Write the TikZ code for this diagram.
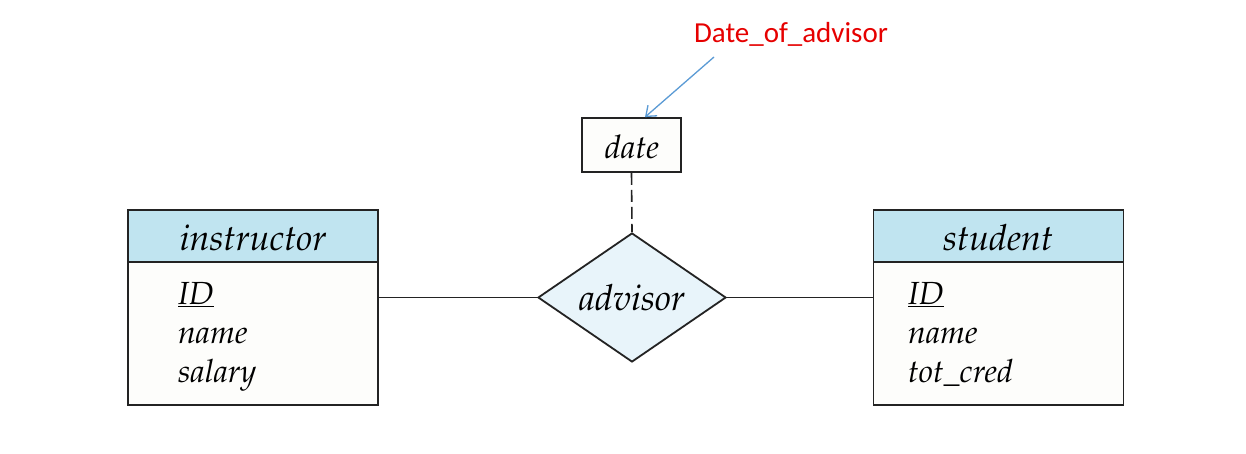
\documentclass[tikz,border=0pt]{standalone}
\usepackage[T1]{fontenc}
\usepackage{fontspec}
\newfontfamily\calibri{Carlito}
\newcommand\palit{\fontencoding{T1}\fontfamily{ppl}\fontseries{m}\fontshape{it}\selectfont}
\usetikzlibrary{shapes.geometric,arrows.meta}
\definecolor{hdr}{RGB}{192,228,240}
\definecolor{body}{RGB}{253,253,251}
\definecolor{dia}{RGB}{232,244,250}
\definecolor{note}{RGB}{230,0,0}
\definecolor{arr}{RGB}{91,155,213}
\definecolor{edge}{RGB}{35,35,35}
\begin{document}
\begin{tikzpicture}[x=1pt,y=-1pt,
  box/.style={draw=edge,line width=1.8pt,rectangle,inner sep=0pt},
  hdrbox/.style={box,fill=hdr,minimum width=250pt,minimum height=52pt},
  bodybox/.style={box,fill=body,minimum width=250pt,minimum height=143pt},
  ttl/.style={anchor=base,inner sep=0pt,font=\fontsize{36}{44}\palit},
  attr/.style={anchor=base west,inner sep=0pt,font=\fontsize{32}{39}\palit},
  conn/.style={draw=edge,line width=1.6pt}]
\useasboundingbox[fill=white] (0,0) rectangle (1246,453);
% instructor
\node[hdrbox] (iH) at (253,236) {};
\node[bodybox] (iB) at (253,333.5) {};
\node[ttl] (iT) at (253,250) {instructor};
\node[attr] (iA1) at (178,304) {\underline{ID}};
\node[attr] (iA2) at (178,343) {name};
\node[attr] (iA3) at (178,382) {salary};
% student
\node[hdrbox] (sH) at (998.5,236) {};
\node[bodybox] (sB) at (998.5,333.5) {};
\node[ttl] (sT) at (998,250) {student};
\node[attr] (sA1) at (908,304) {\underline{ID}};
\node[attr] (sA2) at (908,343) {name};
\node[attr] (sA3) at (908,382) {tot\_cred};
% relationship
\node[diamond,draw=edge,line width=1.8pt,fill=dia,minimum width=188pt,minimum height=129pt,inner sep=0pt] (adv) at (632,297.5) {};
\node[ttl] (advT) at (632,310) {advisor};
% date attribute
\node[box,fill=body,minimum width=99pt,minimum height=54pt] (date) at (631.5,145) {};
\node[ttl,font=\fontsize{32.5}{39}\palit] (dateT) at (632,158) {date};
% connectors
\draw[conn] (iB.east |- adv.west) -- (adv.west);
\draw[conn] (adv.east) -- (sB.west |- adv.east);
\draw[conn,dash pattern=on 12pt off 5pt] (date.south) -- (adv.north);
% note
\node[anchor=base,inner sep=0pt,text=note,font=\calibri\fontsize{29}{34}\selectfont] (note) at (791,42) {Date\_of\_advisor};
\coordinate (nstart) at (714,57);
\draw[arr,line width=1.3pt,-{Straight Barb[length=9pt,width=14pt]}] (nstart) -- (date.north -| 645,0);
\end{tikzpicture}
\end{document}
